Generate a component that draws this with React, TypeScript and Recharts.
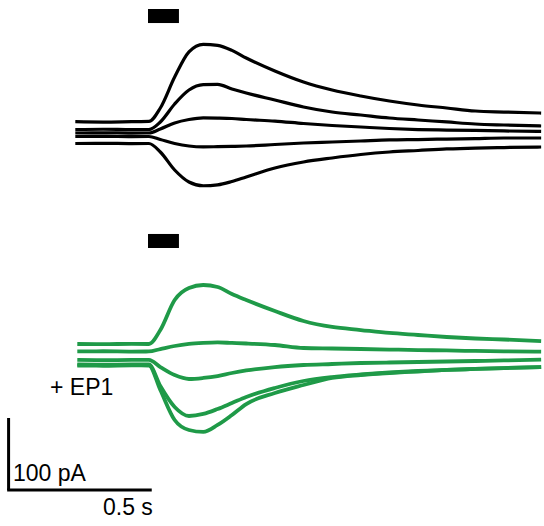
import React from "react";
import { LineChart, Line, XAxis, YAxis, ReferenceArea, ReferenceLine } from "recharts";

// time in s from trace start, current in pA (each trace keeps its own holding level)
const CTRL_T = [0.003, 0.1, 0.2, 0.26, 0.3, 0.35, 0.4, 0.45, 0.5, 0.55, 0.6, 0.7, 0.8, 0.9, 1.0, 1.1, 1.2, 1.3, 1.4, 1.5, 1.63];
const CTRL_A = [16, 15.5, 16, 16.3, 35, 78, 113, 123.5, 122, 115, 104.4, 86.4, 71.1, 60, 51.7, 44.7, 39.2, 35, 30.8, 29.4, 28];
const CTRL_B = [5.1, 5.5, 5, 5.1, 15.6, 40.6, 60, 67.5, 67.8, 61.4, 55.8, 46.1, 36.4, 29.4, 25.3, 21.1, 18.3, 15.6, 12.8, 11.4, 10];
const CTRL_C = [0.3, 0.5, 0.2, 0.3, 5.8, 14.2, 19, 21.3, 21, 20.4, 19, 16.9, 13.5, 10.7, 8.6, 6.5, 5.1, 4.4, 3.8, 3.1, 2.4];
const CTRL_D = [-4.6, -4.4, -4.7, -4.6, -8.8, -14.3, -17.8, -19, -18.7, -18.3, -17.8, -15.7, -13.6, -12.2, -10.8, -9.4, -8.8, -8.1, -7.4, -6.7, -6.7];
const CTRL_E = [-14.3, -14, -14.4, -14.3, -26.1, -51.1, -67.8, -73, -71.8, -67.1, -60.8, -48.3, -40, -34.4, -29.6, -26.1, -24, -21.9, -20.6, -19.9, -19.2];

const EP1_T = [0.01, 0.1, 0.2, 0.26, 0.3, 0.35, 0.4, 0.45, 0.5, 0.55, 0.6, 0.7, 0.8, 0.9, 1.0, 1.1, 1.2, 1.3, 1.4, 1.5, 1.63];
const EP1_A = [15.3, 15, 15.5, 15.3, 34.7, 76.4, 93.1, 97.2, 94.4, 84.7, 76.4, 61.1, 47.2, 38.9, 34.7, 30.6, 27.8, 25, 22.9, 21.5, 19.4];
const EP1_B = [4.9, 5.2, 4.8, 4.9, 8.3, 12.5, 15.3, 16.7, 17.4, 16.7, 16, 13.9, 9.7, 9, 8.3, 7.6, 6.9, 6.3, 5.6, 5.1, 4.6];
const EP1_C = [-6.9, -7.2, -6.8, -6.9, -16.7, -27.8, -33.3, -31.9, -29.2, -25, -21.5, -16.7, -13.9, -12.5, -11.1, -10.4, -9.7, -9, -8.3, -7.6, -6.3];
const EP1_D = [-13.2, -13.5, -13, -13.2, -43.1, -72.2, -84.7, -81.9, -75, -66.7, -58.3, -45.8, -36.1, -30.6, -27.1, -24.3, -22.2, -20.8, -19.4, -18.1, -16.7];
const EP1_E = [-14.6, -14.9, -14.4, -14.6, -48.6, -90.3, -104.2, -106.9, -97.2, -83.3, -68.1, -52.8, -41.7, -31.9, -27.8, -25, -22.9, -20.8, -19.4, -18.1, -16.7];

const PUFF = [0.257, 0.365]; // application bar, s
const SCALE_T = 0.5; // s
const SCALE_PA = 100; // pA

const X_DOMAIN = [-0.26, 1.64];
const GREEN = "#1f9a48";
const FONT = '"Liberation Sans", Arial, sans-serif';

const ctrlRows = CTRL_T.map((t, i) => ({ t, a: CTRL_A[i], b: CTRL_B[i], c: CTRL_C[i], d: CTRL_D[i], e: CTRL_E[i] }));
const ep1Rows = EP1_T.map((t, i) => ({ t, a: EP1_A[i], b: EP1_B[i], c: EP1_C[i], d: EP1_D[i], e: EP1_E[i] }));

const KEYS = ["a", "b", "c", "d", "e"];

function Panel({ data, color, width, yDomain, height, puffY, children }: any) {
  return (
    <LineChart width={544} height={height} data={data} margin={{ top: 0, right: 0, bottom: 0, left: 0 }}>
      <XAxis dataKey="t" type="number" domain={X_DOMAIN} hide allowDataOverflow />
      <YAxis type="number" domain={yDomain} hide allowDataOverflow />
      <ReferenceArea x1={PUFF[0]} x2={PUFF[1]} y1={puffY[0]} y2={puffY[1]} fill="#000" fillOpacity={1} stroke="none" />
      {KEYS.map((k) => (
        <Line
          key={k}
          dataKey={k}
          type="monotone"
          stroke={color}
          strokeWidth={width}
          dot={false}
          activeDot={false}
          isAnimationActive={false}
        />
      ))}
      {children}
    </LineChart>
  );
}

const label = (left: number, top: number) => ({
  position: "absolute" as const,
  left,
  top,
  fontFamily: FONT,
  fontSize: 23,
  lineHeight: "23px",
  color: "#000",
  whiteSpace: "nowrap" as const,
});

export default function App() {
  const barT = -0.23;
  const barPA = -187.5;
  return (
    <div style={{ position: "absolute", left: 0, top: 0, width: 544, height: 526, background: "#fff" }}>
      <div style={{ position: "absolute", left: 0, top: 0 }}>
        <Panel data={ctrlRows} color="#000" width={3.2} height={216} yDomain={[-115, 185]} puffY={[153, 172.5]} />
      </div>
      <div style={{ position: "absolute", left: 0, top: 220 }}>
        <Panel data={ep1Rows} color={GREEN} width={3.8} height={306} yDomain={[-237.5, 187.5]} puffY={[148.6, 168.1]}>
          <ReferenceLine
            segment={[{ x: barT, y: barPA }, { x: barT, y: barPA + SCALE_PA }]}
            stroke="#000"
            strokeWidth={3}
          />
          <ReferenceLine
            segment={[{ x: barT - 0.005, y: barPA }, { x: barT + SCALE_T, y: barPA }]}
            stroke="#000"
            strokeWidth={3}
          />
        </Panel>
      </div>
      <div style={label(50, 375.5)}>+ EP1</div>
      <div style={label(13, 461.5)}>100 pA</div>
      <div style={label(103, 495.5)}>0.5 s</div>
    </div>
  );
}
